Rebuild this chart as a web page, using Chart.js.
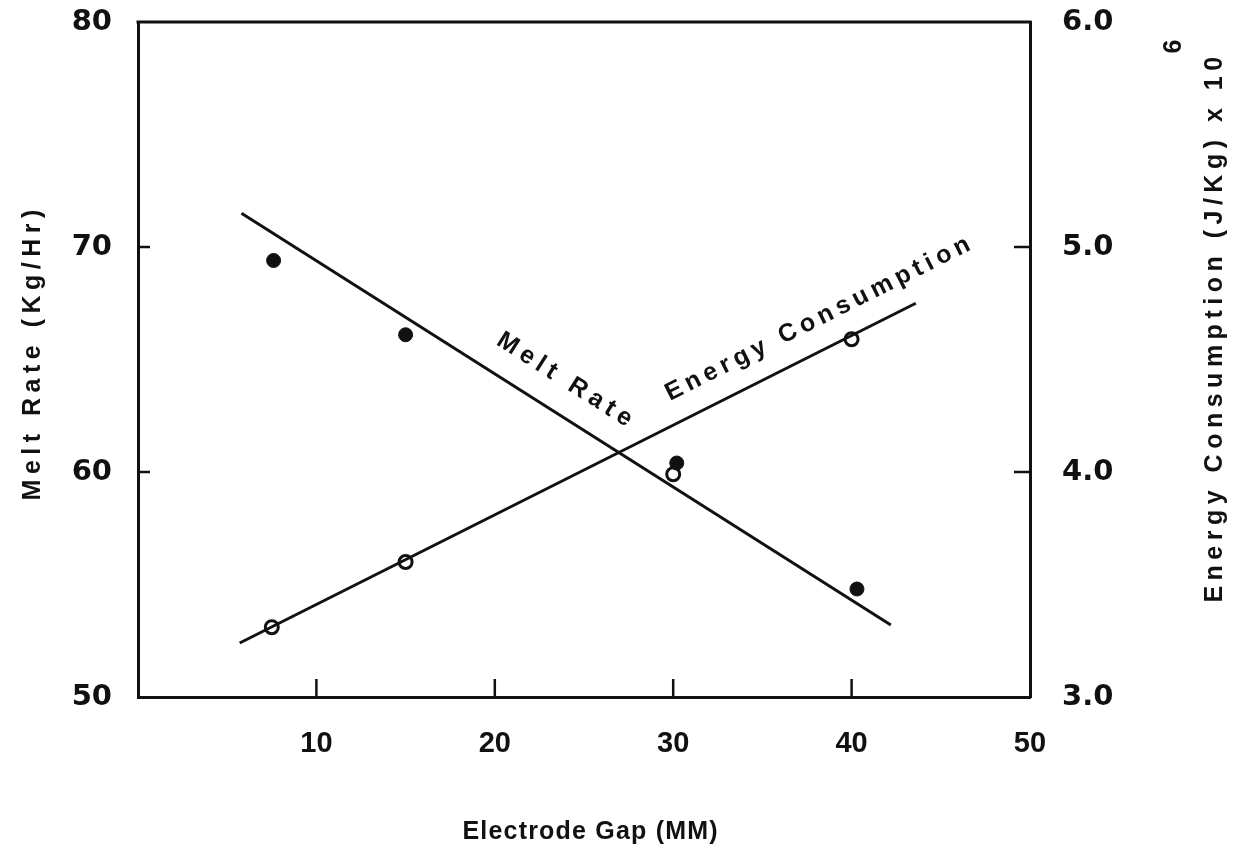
<!DOCTYPE html>
<html>
<head>
<meta charset="utf-8">
<title>Melt Rate and Energy Consumption vs Electrode Gap</title>
<script src="https://cdn.jsdelivr.net/npm/chart.js@4.4.1/dist/chart.umd.min.js"></script>
<style>
  html, body { margin: 0; padding: 0; background: #fff; }
  canvas { display: block; }
</style>
</head>
<body>
<canvas id="gapChart" width="1242" height="855"></canvas>
<script>
// measured points
const meltGap = [7.6, 15.0, 30.2, 40.3];
const meltRate = [69.4, 66.1, 60.4, 54.8];
const energyGap = [7.5, 15.0, 30.0, 40.0];
const energyUse = [3.31, 3.60, 3.99, 4.59];

// fitted lines, end points only
const meltFitGap = [5.8, 42.2];
const meltFitRate = [71.5, 53.2];
const energyFitGap = [5.7, 43.6];
const energyFitUse = [3.24, 4.75];

// tick labels
const gapTicks = [10, 20, 30, 40, 50];
const meltTicks = [50, 60, 70, 80];
const energyTicks = [3.0, 4.0, 5.0, 6.0];

const ink = '#111';
const titleFont = 'bold 25px "Liberation Sans", Arial, sans-serif';

function toPoints(xs, ys) {
  return xs.map((x, i) => ({ x: x, y: ys[i] }));
}

function setTicks(values) {
  return scale => { scale.ticks = values.map(v => ({ value: v })); };
}

// fixed width for a side axis; its end labels may hang over the box
function sideWidth(width) {
  return scale => {
    scale.width = width;
    scale.paddingTop = 0;
    scale.paddingBottom = 0;
  };
}

// text with letter spacing, centred on (x, y), optionally rotated
function spacedText(ctx, text, x, y, angle, font, spacing) {
  ctx.save();
  ctx.translate(x, y);
  ctx.rotate(angle);
  ctx.font = font;
  ctx.letterSpacing = spacing + 'px';
  ctx.textAlign = 'center';
  ctx.textBaseline = 'middle';
  ctx.fillStyle = ink;
  ctx.fillText(text, spacing / 2, 0);
  ctx.restore();
}

const framePlugin = {
  id: 'frame',
  afterDraw(chart) {
    const ctx = chart.ctx;
    const area = chart.chartArea;
    const sx = chart.scales.x, sy = chart.scales.y, sy2 = chart.scales.y2;

    ctx.save();
    ctx.strokeStyle = ink;
    ctx.lineWidth = 3;

    // top edge of the box
    ctx.beginPath();
    ctx.moveTo(area.left - 1.5, area.top);
    ctx.lineTo(area.right + 1.5, area.top);
    ctx.stroke();

    // inward tick marks
    ctx.lineWidth = 2.5;
    ctx.beginPath();
    gapTicks.slice(0, -1).forEach(v => {
      const px = sx.getPixelForValue(v);
      ctx.moveTo(px, area.bottom);
      ctx.lineTo(px, area.bottom - 18);
    });
    meltTicks.slice(1, -1).forEach(v => {
      const py = sy.getPixelForValue(v);
      ctx.moveTo(area.left, py);
      ctx.lineTo(area.left + 12, py);
    });
    energyTicks.slice(1, -1).forEach(v => {
      const py = sy2.getPixelForValue(v);
      ctx.moveTo(area.right, py);
      ctx.lineTo(area.right - 16, py);
    });
    ctx.stroke();
    ctx.restore();

    // curve labels, turned to follow their fitted lines
    const meltAngle = Math.atan2(
      sy.getPixelForValue(meltFitRate[1]) - sy.getPixelForValue(meltFitRate[0]),
      sx.getPixelForValue(meltFitGap[1]) - sx.getPixelForValue(meltFitGap[0]));
    const energyAngle = Math.atan2(
      sy2.getPixelForValue(energyFitUse[1]) - sy2.getPixelForValue(energyFitUse[0]),
      sx.getPixelForValue(energyFitGap[1]) - sx.getPixelForValue(energyFitGap[0]));
    spacedText(ctx, 'Melt Rate', sx.getPixelForValue(23.9), sy.getPixelForValue(64.1),
      meltAngle, titleFont, 5.5);
    spacedText(ctx, 'Energy Consumption', sx.getPixelForValue(38.1), sy2.getPixelForValue(4.68),
      energyAngle, titleFont, 5);

    // axis titles
    spacedText(ctx, 'Electrode Gap (MM)', 590, 832, 0, titleFont, 1.2);
    spacedText(ctx, 'Melt Rate (Kg/Hr)', 33, 355, -Math.PI / 2, titleFont, 5.5);

    // right title with its power of ten
    const rightTitle = 'Energy Consumption (J/Kg) x 10';
    ctx.save();
    ctx.translate(1215, 330);
    ctx.rotate(-Math.PI / 2);
    ctx.font = titleFont;
    ctx.letterSpacing = '5.5px';
    ctx.fillStyle = ink;
    ctx.textAlign = 'center';
    ctx.textBaseline = 'middle';
    const w = ctx.measureText(rightTitle).width;
    ctx.fillText(rightTitle, 3, 0);
    ctx.font = 'bold 25px "Liberation Sans", Arial, sans-serif';
    ctx.letterSpacing = '0px';
    ctx.textAlign = 'left';
    ctx.fillText('6', w / 2 + 1, -41);
    ctx.restore();
  }
};

const chart = new Chart(document.getElementById('gapChart'), {
  type: 'scatter',
  data: {
    datasets: [
      {
        label: 'Melt Rate fit',
        data: toPoints(meltFitGap, meltFitRate),
        showLine: true,
        borderColor: ink,
        borderWidth: 3,
        pointRadius: 0,
        yAxisID: 'y'
      },
      {
        label: 'Energy Consumption fit',
        data: toPoints(energyFitGap, energyFitUse),
        showLine: true,
        borderColor: ink,
        borderWidth: 3,
        pointRadius: 0,
        yAxisID: 'y2'
      },
      {
        label: 'Melt Rate',
        data: toPoints(meltGap, meltRate),
        pointRadius: 7,
        pointBackgroundColor: ink,
        pointBorderColor: ink,
        pointBorderWidth: 1,
        yAxisID: 'y'
      },
      {
        label: 'Energy Consumption',
        data: toPoints(energyGap, energyUse),
        pointRadius: 6.5,
        pointBackgroundColor: '#fff',
        pointBorderColor: ink,
        pointBorderWidth: 3,
        yAxisID: 'y2'
      }
    ]
  },
  options: {
    responsive: false,
    animation: false,
    devicePixelRatio: 1,
    layout: { padding: { top: 22, left: 0, right: 0, bottom: 0 } },
    plugins: {
      legend: { display: false },
      tooltip: { enabled: false }
    },
    scales: {
      x: {
        type: 'linear',
        min: 0,
        max: 50,
        afterBuildTicks: setTicks(gapTicks),
        afterFit: scale => { scale.height = 158; },
        grid: { display: true, drawOnChartArea: false, drawTicks: false },
        border: { display: true, color: ink, width: 3 },
        ticks: {
          color: ink,
          padding: 30,
          maxRotation: 0,
          autoSkip: false,
          font: { family: '"Liberation Sans Narrow", "Liberation Sans", Arial, sans-serif', size: 29, weight: 'bold' }
        }
      },
      y: {
        type: 'linear',
        position: 'left',
        min: 50,
        max: 80,
        afterBuildTicks: setTicks(meltTicks),
        afterFit: sideWidth(138),
        grid: { display: true, drawOnChartArea: false, drawTicks: false },
        border: { display: true, color: ink, width: 3 },
        ticks: {
          color: ink,
          padding: 26,
          autoSkip: false,
          font: { family: '"DejaVu Sans", sans-serif', size: 29, weight: 'bold' }
        }
      },
      y2: {
        type: 'linear',
        position: 'right',
        min: 3,
        max: 6,
        afterBuildTicks: setTicks(energyTicks),
        afterFit: sideWidth(212),
        grid: { display: true, drawOnChartArea: false, drawTicks: false },
        border: { display: true, color: ink, width: 3 },
        ticks: {
          color: ink,
          padding: 32,
          autoSkip: false,
          callback: v => v.toFixed(1),
          font: { family: '"DejaVu Sans", sans-serif', size: 29, weight: 'bold' }
        }
      }
    }
  },
  plugins: [framePlugin]
});
</script>
</body>
</html>
